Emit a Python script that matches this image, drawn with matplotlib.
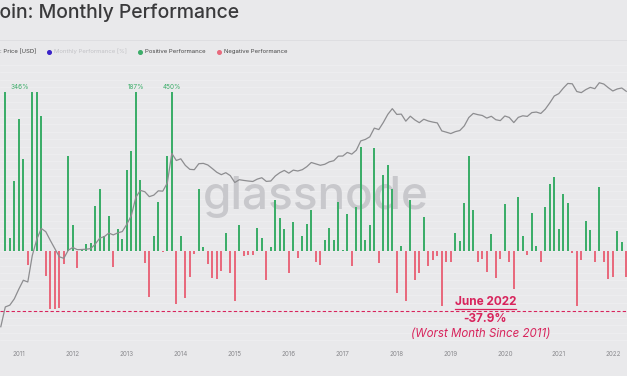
import numpy as np
import matplotlib
matplotlib.use("Agg")
import matplotlib.pyplot as plt
from matplotlib.lines import Line2D
from matplotlib.ticker import MultipleLocator
from matplotlib.transforms import IdentityTransform

# monthly data, Sep 2010 .. Apr 2022
start_year = 2010
start_month = 9

perf = [
    0, 200, 8, 44,                                                  # 2010
    83, 58, -9, 346, 150, 85, -16, -37, -37, -36, -8.6, 60,         # 2011
    16, -11, 1, 4, 5, 28, 39, 9, 22, -10, 13.5, 7.4,                # 2012
    51, 63, 187, 44.7, -8, -29, 9.5, 30.6, -1, 60, 450, -33.7,      # 2013
    9.5, -30, -16.4, -2, 39, 2.5, -8.4, -17.5, -18, -13, 11.4, -14, # 2014
    -32, 16, -3.2, -3, -3, 14.5, 8.2, -18.5, 2.5, 32, 20.5, 14,     # 2015
    -14, 18, -4.8, 9.3, 17, 26, -7, -9, 6.7, 14.5, 6.7, 30.6,       # 2016
    0.6, 23, -9.4, 27.8, 65.7, 6.7, 16, 65, -8, 48, 54, 39,         # 2017
    -27, 3, -32, 32, -18.5, -14, 21.5, -9.4, -5.7, -3.6, -35, -7,   # 2018
    -7, 11, 6, 30, 60, 25.7, -7, -5, -13.6, 10.5, -17.5, -5,        # 2019
    29.5, -7, -24.4, 34, 9.3, -3, 23.6, 3, -7, 27.4, 42, 46.7,      # 2020
    14, 36, 30, -1.7, -35, -6, 18.8, 13, -7, 40, -7, -18,           # 2021
    -16.6, 12.4, 5.5, -16.6,                                        # 2022
]

price = [
    0.062, 0.19, 0.21, 0.30,
    0.52, 0.86, 0.78, 3.5, 8.74, 16.1, 13.4, 8.2, 5.14, 3.25, 2.97, 4.72,
    5.48, 4.86, 4.9, 4.99, 5.16, 6.68, 9.35, 10.16, 12.4, 11.2, 12.56, 13.51,
    20.41, 33.38, 93.03, 139, 128.8, 97.5, 106.2, 135.4, 133, 211.2, 1129, 754,
    829, 573, 457, 448, 628, 640, 585, 478, 387, 338, 378, 320,
    217, 254, 244, 236, 230, 263, 284, 231, 236, 314, 378, 430,
    368, 437, 416, 448, 531, 673, 624, 575, 609, 698, 745, 964,
    970, 1190, 1080, 1348, 2286, 2480, 2875, 4703, 4338, 6468, 10233, 14156,
    10221, 10397, 6973, 9240, 7494, 6404, 7780, 7037, 6625, 6318, 4017, 3742,
    3457, 3854, 4105, 5350, 8574, 10817, 10085, 9630, 8293, 9199, 7569, 7193,
    9350, 8599, 6438, 8658, 9461, 9137, 11323, 11680, 10784, 13781, 19625, 28990,
    33114, 45137, 58918, 57750, 37332, 35041, 41626, 47166, 43790, 61318, 57005, 46306,
    38483, 43194, 45538, 37714,
]

big_labels = {(2011, 4): "346%", (2013, 3): "187%", (2013, 11): "450%"}
years = list(range(2011, 2023))
worst = -37.9

BG = "#e9e9eb"
GREEN = "#3cad69"
RED = "#e86a7d"
PINK = "#d8245c"

perf = np.array(perf, dtype=float)
n = len(perf)
x = start_year + (start_month - 1) / 12 + np.arange(n) / 12

fig = plt.figure(figsize=(6.27, 3.76), dpi=100, facecolor=BG)
W, H = 627, 376
ax = fig.add_axes([0, 33 / H, 1, 281 / H])
ax.set_facecolor(BG)

clipped = np.minimum(perf, 100)
pos = perf >= 0
ax.bar(x[pos], clipped[pos], width=0.034, color=GREEN, zorder=2, linewidth=0)
ax.bar(x[~pos], clipped[~pos], width=0.034, color=RED, zorder=2, linewidth=0)

for (yy, mm), lab in big_labels.items():
    i = (yy - start_year) * 12 + (mm - start_month)
    dx = -9 if lab == "346%" else 0
    ax.annotate(lab, (x[i], 100), xytext=(dx, 2), textcoords="offset points",
                ha="center", va="bottom", color=GREEN, fontsize=4.6, family="Inter")

ax.axhline(worst, color=PINK, lw=0.8, ls=(0, (3, 2)), zorder=3)

ax.set_xlim(2011 - 18.8 / 54, 2011 + 608.2 / 54)
ax.set_ylim(-58.3, 119.2)
ax.set_xticks(years)
ax.set_xticklabels([str(y) for y in years], fontsize=4.5, color="#8a8a8e", family="Inter")
ax.tick_params(axis="x", length=0, pad=6)
ax.yaxis.set_major_locator(MultipleLocator(4.7))
ax.tick_params(axis="y", length=0, labelleft=False)
ax.grid(axis="y", color="#efeff1", lw=0.5)
ax.set_axisbelow(True)
for s in ax.spines.values():
    s.set_visible(False)

ax.text(0.503, 0.52, "glassnode", transform=ax.transAxes, ha="center", va="center",
        fontsize=33, color="#c8c8cc", family="Inter", fontweight="medium", zorder=1)

ax2 = ax.twinx()
ax2.set_yscale("log")
ax2.set_ylim(0.0247, 198300)
ax2.plot(x, price, color="#8d8d90", lw=0.9)
ax2.set_yticks([])
ax2.minorticks_off()
ax2.tick_params(axis="y", which="both", length=0, labelright=False)
for s in ax2.spines.values():
    s.set_visible(False)

# annotation for June 2022
ann_x = 2011 + (485.5 - 18.8) / 54
t1 = ax.text(ann_x, -32.6, "June 2022", ha="center", va="center", color=PINK,
             fontsize=8.5, fontweight="bold", family="Inter")
ax.text(ann_x, -43.4, "-37.9%", ha="center", va="center", color=PINK,
        fontsize=8.5, fontweight="bold", family="Inter")
ax.text(ann_x - 0.08, -52.3, "(Worst Month Since 2011)", ha="center", va="center",
        color=PINK, fontsize=8.3, style="italic", family="Inter")

# title and legend (cropped at left edge)
r = fig.canvas.get_renderer()
tmp = fig.text(0, 0, "Bitc", fontsize=14, family="Inter", fontweight="medium")
wb = tmp.get_window_extent(r).width
tmp.remove()
fig.text(-wb / W, 1 - 13 / H, "Bitcoin: Monthly Performance", fontsize=14,
         family="Inter", fontweight="medium", color="#3a3a3c", va="center")

fig.add_artist(Line2D([0, 1], [1 - 40 / H, 1 - 40 / H], transform=fig.transFigure,
                      color="#dcdce0", lw=0.6))
ly = 1 - 51.5 / H
fig.text(36.7 / W, ly, "BTC: Price [USD]", ha="right", va="center", fontsize=4.3,
         family="Inter", color="#444")
legend_items = [(49.3, "#3a22c9", "Monthly Performance [%]", "#c2c2c6"),
                (140, GREEN, "Positive Performance", "#444"),
                (219, RED, "Negative Performance", "#444")]
for px, col, lab, tcol in legend_items:
    fig.add_artist(Line2D([px / W], [ly], marker="o", ms=2.6, color=col,
                          transform=fig.transFigure, lw=0))
    fig.text((px + 5) / W, ly, lab, va="center", fontsize=4.3, family="Inter", color=tcol)

fig.canvas.draw()
bb = t1.get_window_extent(r)
fig.add_artist(Line2D([bb.x0, bb.x1], [bb.y0 - 1, bb.y0 - 1], transform=IdentityTransform(),
                      color=PINK, lw=0.9))

fig.savefig("out.png", dpi=100, facecolor=BG)
